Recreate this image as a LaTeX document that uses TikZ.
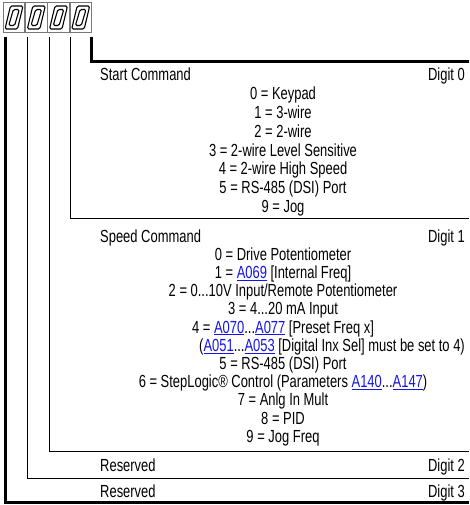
\documentclass[tikz,border=0pt]{standalone}
\usepackage{fontspec}
\setmainfont[FakeStretch=0.74]{Liberation Sans}
\definecolor{linkblue}{RGB}{20,20,230}
\definecolor{boxgray}{RGB}{120,120,120}
\newcommand\lnk[1]{\textcolor{linkblue}{\underline{#1}}}
\begin{document}
\begin{tikzpicture}[x=1pt,y=-1pt,
  every node/.style={inner sep=0pt,font=\fontsize{17.5}{20}\selectfont},
  midtxt/.style={anchor=base},
  lefttxt/.style={anchor=base west},
  righttxt/.style={anchor=base east},
  thickframe/.style={line width=3pt},
  thinframe/.style={line width=1pt},
  digitbox/.style={draw=boxgray,line width=0.8pt,minimum width=21.5pt,minimum height=30pt},
  segline/.style={line width=1.1pt,rounded corners=1.5pt}]
\useasboundingbox (0,0) rectangle (469,505);
% digit display
\foreach \cx/\nm in {14/dthree,36.3/dtwo,58.5/done,80.7/dzero}{
  \node[digitbox] (\nm) at (\cx,17) {};
  \draw[segline] (\cx-9,29) -- (\cx+3.5,29) -- (\cx+9,6) -- (\cx-3.5,6) -- cycle;
  \draw[segline] (\cx-5.3,25.5) -- (\cx+0.6,25.5) -- (\cx+5.3,9.5) -- (\cx-0.6,9.5) -- cycle;
}
% start points of the frame lines
\coordinate (sthree) at (5,37);
\coordinate (stwo) at (27,37);
\coordinate (sone) at (49,37);
\coordinate (szero) at (70,37);
\coordinate (stop) at (91,37);
\coordinate (ethree) at (469,502);
\coordinate (etwo) at (469,478);
\coordinate (eone) at (469,451.5);
\coordinate (ezero) at (469,218.5);
\coordinate (etop) at (469,61.5);
% frames
\draw[thickframe] (stop) |- (etop);
\draw[thinframe] (szero) |- (ezero);
\draw[thinframe] (sone) |- (eone);
\draw[thinframe] (stwo) |- (etwo);
\draw[thickframe] (sthree) |- (ethree);
% Digit 0 block
\node[lefttxt] (sc) at (100,81) {Start Command};
\node[righttxt] (dz) at (465,81) {Digit 0};
\node[midtxt] (a0) at (283,99.8) {0 = Keypad};
\node[midtxt] (a1) at (283,118.6) {1 = 3-wire};
\node[midtxt] (a2) at (283,137.4) {2 = 2-wire};
\node[midtxt] (a3) at (283,156.2) {3 = 2-wire Level Sensitive};
\node[midtxt] (a4) at (283,175) {4 = 2-wire High Speed};
\node[midtxt] (a5) at (283,193.8) {5 = RS-485 (DSI) Port};
\node[midtxt] (a9) at (283,212.6) {9 = Jog};
% Digit 1 block
\node[lefttxt] (spc) at (100,242) {Speed Command};
\node[righttxt] (do) at (465,242) {Digit 1};
\node[midtxt] (b0) at (283,260.2) {0 = Drive Potentiometer};
\node[midtxt] (b1) at (283,278.4) {1 = \lnk{A069} [Internal Freq]};
\node[midtxt] (b2) at (283,296.6) {2 = 0...10V Input/Remote Potentiometer};
\node[midtxt] (b3) at (283,314.8) {3 = 4...20 mA Input};
\node[midtxt] (b4) at (283,333) {4 = \lnk{A070}...\lnk{A077} [Preset Freq x]};
\node[righttxt] (b4n) at (465,351.2) {(\lnk{A051}...\lnk{A053} [Digital Inx Sel] must be set to 4)};
\node[midtxt] (b5) at (283,369.4) {5 = RS-485 (DSI) Port};
\node[midtxt] (b6) at (283,387.6) {6 = StepLogic® Control (Parameters \lnk{A140}...\lnk{A147})};
\node[midtxt] (b7) at (283,405.8) {7 = Anlg In Mult};
\node[midtxt] (b8) at (283,424) {8 = PID};
\node[midtxt] (b9) at (283,442.2) {9 = Jog Freq};
% Digit 2 and 3
\node[lefttxt] (r2) at (100,471) {Reserved};
\node[righttxt] (dt) at (465,471) {Digit 2};
\node[lefttxt] (r3) at (100,497) {Reserved};
\node[righttxt] (dth) at (465,497) {Digit 3};
\end{tikzpicture}
\end{document}
